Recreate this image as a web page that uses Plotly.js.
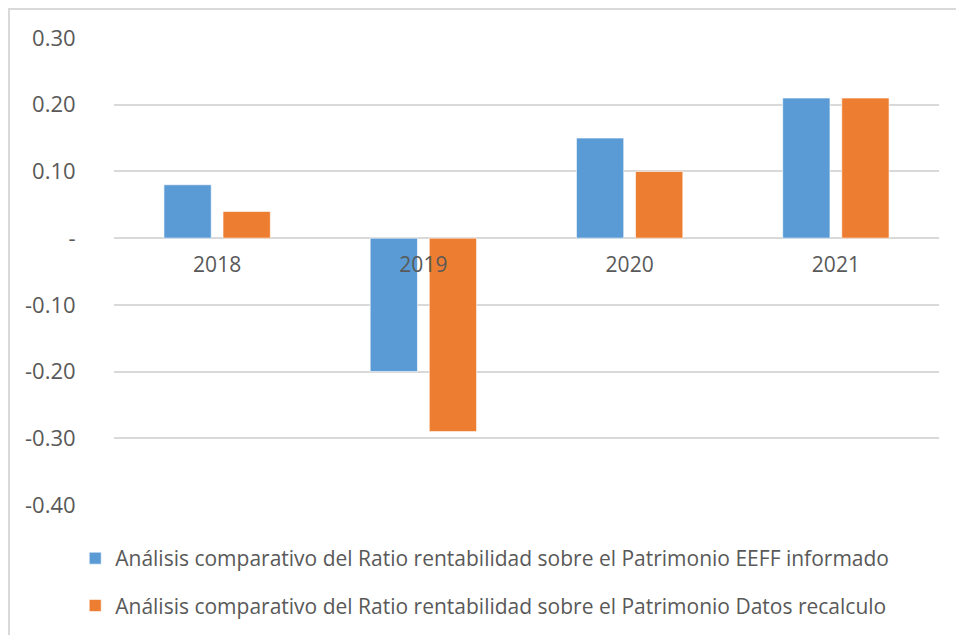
<!DOCTYPE html>
<html>
<head>
<meta charset="utf-8">
<script src="https://cdn.plot.ly/plotly-3.0.1.min.js"></script>
<style>
  html, body { margin: 0; padding: 0; background: #ffffff; }
  #wrap { position: relative; width: 956px; height: 635px; overflow: hidden; }
  #chart { position: absolute; left: 0; top: 0; width: 956px; height: 635px; }
  #frame { position: absolute; left: 8px; top: 8px; width: 960px; height: 640px;
           border-top: 2px solid #d9d9d9; border-left: 2px solid #d9d9d9; pointer-events: none; }
</style>
</head>
<body>
<div id="wrap">
  <div id="chart"></div>
  <div id="frame"></div>
</div>
<script>
const categories = ["2018", "2019", "2020", "2021"];
const seriesNames = [
  "Análisis comparativo del Ratio rentabilidad sobre el Patrimonio EEFF informado",
  "Análisis comparativo del Ratio rentabilidad sobre el Patrimonio Datos recalculo"
];
const eeffInformado = [0.08, -0.20, 0.15, 0.21];
const datosRecalculo = [0.04, -0.29, 0.10, 0.21];
const yTickVals = [0.30, 0.20, 0.10, 0, -0.10, -0.20, -0.30, -0.40];
const yTickText = ["0.30", "0.20", "0.10", "-", "-0.10", "-0.20", "-0.30", "-0.40"];

const FONT = "Open Sans, Noto Sans, sans-serif";
const textColor = "#595959";

const traces = [
  {
    type: "bar", x: categories, y: eeffInformado, name: seriesNames[0],
    marker: { color: "#5B9BD5", line: { color: "rgba(255,255,255,0.6)", width: 1 } },
    legendgroup: "a", hoverinfo: "none"
  },
  {
    type: "bar", x: categories, y: datosRecalculo, name: seriesNames[1],
    marker: { color: "#ED7D31", line: { color: "rgba(255,255,255,0.6)", width: 1 } },
    legendgroup: "b", hoverinfo: "none"
  }
];

const yMin = -0.40, yMax = 0.30;
const layout = {
  width: 956, height: 635,
  margin: { l: 114, r: 17, t: 38, b: 130, pad: 0, autoexpand: false },
  paper_bgcolor: "#ffffff", plot_bgcolor: "#ffffff",
  font: { family: FONT, color: textColor, size: 21 },
  barmode: "group",
  bargap: 0.427,
  bargroupgap: 0.2,
  showlegend: true,
  legend: {
    orientation: "v",
    x: -0.047, xanchor: "left",
    y: -0.0707, yanchor: "top",
    font: { family: FONT, size: 21, color: textColor },
    tracegroupgap: 17,
    traceorder: "grouped",
    itemwidth: 30,
    itemclick: false, itemdoubleclick: false
  },
  xaxis: {
    type: "category",
    anchor: "free",
    position: (0 - yMin) / (yMax - yMin),
    showgrid: false, zeroline: false, showline: false,
    ticks: "outside", ticklen: 8, tickcolor: "rgba(0,0,0,0)",
    tickfont: { family: FONT, size: 21, color: textColor },
    fixedrange: true
  },
  yaxis: {
    range: [yMin, yMax],
    tickmode: "array", tickvals: yTickVals, ticktext: yTickText,
    showgrid: true, gridcolor: "#d9d9d9", gridwidth: 2,
    zeroline: true, zerolinecolor: "#d9d9d9", zerolinewidth: 2,
    showline: false,
    ticks: "outside", ticklen: 33, tickcolor: "rgba(0,0,0,0)",
    tickfont: { family: FONT, size: 22, color: textColor },
    fixedrange: true
  }
};

Plotly.newPlot("chart", traces, layout, { displayModeBar: false, staticPlot: true });
</script>
</body>
</html>
